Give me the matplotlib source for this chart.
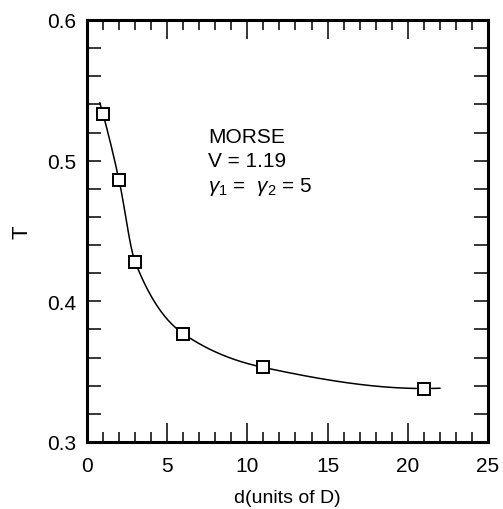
import numpy as np
import matplotlib
matplotlib.use("Agg")
import matplotlib.pyplot as plt
from matplotlib.ticker import MultipleLocator

# data
d_values = [1, 2, 3, 6, 11, 21]
T_values = [0.533, 0.486, 0.428, 0.377, 0.353, 0.338]
curve_range = [0.8, 22.0]
x_ticks = [0, 5, 10, 15, 20, 25]
x_tick_labels = ["0", "5", "10", "15", "20", "25"]
y_ticks = [0.3, 0.4, 0.5, 0.6]
y_tick_labels = ["0.3", "0.4", "0.5", "0.6"]

plt.rcParams['font.family'] = ['Liberation Sans', 'DejaVu Sans']
plt.rcParams['mathtext.fontset'] = 'custom'
plt.rcParams['mathtext.rm'] = 'Liberation Sans'
plt.rcParams['mathtext.it'] = 'Liberation Sans:italic'


def pchip_slopes(x, y):
    h = np.diff(x)
    delta = np.diff(y) / h
    n = len(x)
    m = np.zeros(n)
    for k in range(1, n - 1):
        if delta[k - 1] * delta[k] > 0:
            w1 = 2 * h[k] + h[k - 1]
            w2 = h[k] + 2 * h[k - 1]
            m[k] = (w1 + w2) / (w1 / delta[k - 1] + w2 / delta[k])
    m[0] = ((2 * h[0] + h[1]) * delta[0] - h[0] * delta[1]) / (h[0] + h[1])
    if np.sign(m[0]) != np.sign(delta[0]):
        m[0] = 0
    m[-1] = ((2 * h[-1] + h[-2]) * delta[-1] - h[-1] * delta[-2]) / (h[-1] + h[-2])
    if np.sign(m[-1]) != np.sign(delta[-1]):
        m[-1] = 0
    return m


def pchip_eval(x, y, xq):
    x = np.asarray(x, float)
    y = np.asarray(y, float)
    m = pchip_slopes(x, y)
    idx = np.clip(np.searchsorted(x, xq) - 1, 0, len(x) - 2)
    h = x[idx + 1] - x[idx]
    t = (xq - x[idx]) / h
    h00 = 2 * t**3 - 3 * t**2 + 1
    h10 = t**3 - 2 * t**2 + t
    h01 = -2 * t**3 + 3 * t**2
    h11 = t**3 - t**2
    return h00 * y[idx] + h10 * h * m[idx] + h01 * y[idx + 1] + h11 * h * m[idx + 1]


fig = plt.figure(figsize=(5.03, 5.10), dpi=100)
ax = fig.add_axes([0.173, 0.1314, 0.797, 0.8275])

xs = np.linspace(curve_range[0], curve_range[1], 400)
ax.plot(xs, pchip_eval(d_values, T_values, xs), color='black', lw=1.1)
ax.plot(d_values, T_values, linestyle='none', marker='s', markersize=8.5,
        markerfacecolor='white', markeredgecolor='black', markeredgewidth=1.4)

ax.set_xlim(0, 25)
ax.set_ylim(0.3, 0.6)
ax.set_xticks(x_ticks)
ax.set_xticklabels(x_tick_labels)
ax.set_yticks(y_ticks)
ax.set_yticklabels(y_tick_labels)
ax.xaxis.set_minor_locator(MultipleLocator(1))
ax.yaxis.set_minor_locator(MultipleLocator(0.02))

ax.tick_params(axis='both', which='both', direction='in', top=True, right=True,
               width=1.1, labelsize=15, colors='black')
ax.tick_params(axis='x', which='major', length=13.5, pad=10)
ax.tick_params(axis='x', which='minor', length=7)
ax.tick_params(axis='y', which='major', length=10, pad=8)
ax.tick_params(axis='y', which='minor', length=10)

for s in ax.spines.values():
    s.set_linewidth(2.2)

ax.set_xlabel('d(units of D)', fontsize=14, labelpad=10)
ax.set_ylabel('T', fontsize=16, labelpad=10)

ax.text(0.303, 0.711, 'MORSE', transform=ax.transAxes, fontsize=15, va='baseline')
ax.text(0.303, 0.654, 'V = 1.19', transform=ax.transAxes, fontsize=15, va='baseline')
ax.text(0.303, 0.594, r'$\gamma_1$ =  $\gamma_2$ = 5', transform=ax.transAxes,
        fontsize=15, va='baseline')

fig.savefig('out.png', dpi=100)
